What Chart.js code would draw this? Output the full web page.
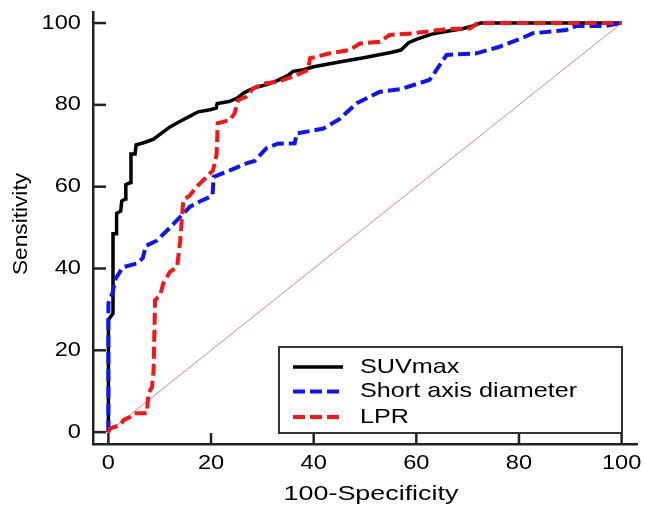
<!DOCTYPE html>
<html>
<head>
<meta charset="utf-8">
<script src="https://cdn.jsdelivr.net/npm/chart.js@4.4.0/dist/chart.umd.min.js"></script>
<style>
  html, body { margin: 0; padding: 0; background: #fff; }
  #roc { display: block; }
</style>
</head>
<body>
<canvas id="roc" width="646" height="505"></canvas>
<script>
// values (x = 100-Specificity, y = Sensitivity)
const tickValues = [0, 20, 40, 60, 80, 100];
const seriesNames = ['SUVmax', 'Short axis diameter', 'LPR'];
const xTitle = '100-Specificity';
const yTitle = 'Sensitivity';

const suvX = [0, 0, 0.9, 0.9, 1.6, 1.6, 2.4, 2.6, 3.3, 3.4, 4.3, 4.4, 5.2, 5.4, 7, 8.8, 10.5, 12, 14, 16, 17.5, 19.8, 21, 21.2, 23.5, 25, 26.5, 28.5, 31, 33, 35, 36, 38, 40, 45, 50, 55, 57, 58.5, 60, 63, 66, 69, 71, 72.5, 100];
const suvY = [0, 27.5, 29, 48.5, 48.5, 53.5, 54, 56.5, 57, 60.5, 61, 68, 68, 70.2, 70.8, 71.6, 73.2, 74.6, 76, 77.3, 78.3, 78.8, 79.2, 80.3, 80.8, 81.6, 83, 84.2, 85, 86, 87.2, 88.2, 88.6, 89.3, 90.5, 91.6, 92.8, 93.4, 95.2, 96, 97.3, 98, 98.6, 99.3, 100, 100];

const shortX = [0, 0, 0.8, 1.4, 2.8, 5.5, 6.7, 7.3, 9.4, 12, 14, 15.9, 18, 19.8, 20.3, 20.5, 23.7, 26.9, 28.5, 30.8, 33, 36.3, 36.7, 41.9, 45, 48.4, 52.9, 56.8, 62.6, 65.9, 71.7, 76.2, 80, 82.7, 89.2, 91.2, 97, 100];
const shortY = [0, 31.5, 34, 37.5, 40.3, 41.2, 42.5, 45.5, 46.8, 50, 52.6, 55.1, 56.5, 57.5, 58, 62.4, 64, 65.7, 66.3, 69.4, 70.5, 70.6, 73, 74.2, 76.5, 80.4, 83.2, 83.8, 86.1, 92.2, 92.6, 94.2, 96, 97.5, 98.3, 99.3, 99.3, 100];

const lprX = [0, 0.3, 2.3, 3, 4.2, 5, 7.5, 7.8, 8.5, 8.8, 9.1, 10.1, 10.7, 12, 13.4, 14, 14.6, 15.9, 17.2, 18.5, 20.4, 21.1, 21.3, 23.7, 24.6, 25.3, 26.9, 28.2, 30.2, 32.8, 36, 38.9, 39.3, 43.2, 47, 49, 52.9, 54.8, 59.4, 65.9, 70.5, 72, 100];
const lprY = [0, 0.9, 1.7, 3, 3.7, 4.6, 4.6, 9.5, 11, 15, 32.3, 33.5, 36.4, 39.2, 40.4, 46.9, 56.7, 57.9, 60, 61.6, 64, 68.1, 75.5, 76.3, 78, 81.2, 82, 84, 85.2, 85.6, 86.9, 88.5, 91.4, 92.6, 93.4, 95, 95.4, 97.1, 97.5, 98.5, 98.7, 100, 100];

const refX = [0, 100];
const refY = [0, 100];

function toPoints(xs, ys) {
    return xs.map((x, i) => ({ x: x, y: ys[i] }));
}

const FONT = '"Liberation Sans", Arial, sans-serif';

// the source picture has horizontally widened lettering, so text is drawn with a small x stretch
function stretchedText(ctx, text, x, y, size, sx, align, angle) {
    ctx.save();
    ctx.translate(x, y);
    if (angle) ctx.rotate(angle);
    ctx.scale(sx, 1);
    ctx.font = size + 'px ' + FONT;
    ctx.fillStyle = '#000';
    ctx.textAlign = align;
    ctx.textBaseline = 'middle';
    ctx.fillText(text, 0, 0);
    ctx.restore();
}

const decorations = {
    id: 'decorations',
    afterDraw(chart) {
        const ctx = chart.ctx;
        const xs = chart.scales.x;
        const ys = chart.scales.y;
        const area = chart.chartArea;

        ctx.save();
        ctx.strokeStyle = '#222';
        ctx.lineWidth = 2.5;
        // inward tick marks
        tickValues.forEach(v => {
            const px = xs.getPixelForValue(v);
            ctx.beginPath();
            ctx.moveTo(px, area.bottom);
            ctx.lineTo(px, area.bottom - 11);
            ctx.stroke();
            const py = ys.getPixelForValue(v);
            ctx.beginPath();
            ctx.moveTo(area.left, py);
            ctx.lineTo(area.left + 13, py);
            ctx.stroke();
        });
        ctx.restore();

        tickValues.forEach(v => {
            stretchedText(ctx, String(v), xs.getPixelForValue(v), 463, 20, 1.18, 'center');
            stretchedText(ctx, String(v), 81, ys.getPixelForValue(v), 20, 1.18, 'right');
        });

        stretchedText(ctx, xTitle, 371, 494, 21, 1.28, 'center');
        stretchedText(ctx, yTitle, 21, 224, 21, 1.08, 'center', -Math.PI / 2);

        // legend box in the lower right
        const box = { left: 279, top: 347, right: 622, bottom: 433 };
        ctx.save();
        ctx.fillStyle = '#fff';
        ctx.fillRect(box.left, box.top, box.right - box.left, box.bottom - box.top);
        ctx.strokeStyle = '#333';
        ctx.lineWidth = 2;
        ctx.strokeRect(box.left, box.top, box.right - box.left, box.bottom - box.top);
        ctx.restore();

        const rows = [367, 391.5, 417];
        [0, 1, 2].forEach(i => {
            const ds = chart.data.datasets[i];
            ctx.save();
            ctx.strokeStyle = ds.borderColor;
            ctx.lineWidth = ds.borderWidth;
            ctx.setLineDash(ds.borderDash || []);
            ctx.beginPath();
            ctx.moveTo(293, rows[i]);
            ctx.lineTo(343, rows[i]);
            ctx.stroke();
            ctx.restore();
            stretchedText(ctx, ds.label, 360, rows[i], 21, 1.2, 'left');
        });
    }
};

const ctx = document.getElementById('roc').getContext('2d');
const rocChart = new Chart(ctx, {
    type: 'line',
    data: {
        datasets: [
            {
                label: seriesNames[0],
                data: toPoints(suvX, suvY),
                borderColor: '#000',
                borderWidth: 3.5,
                order: 3
            },
            {
                label: seriesNames[1],
                data: toPoints(shortX, shortY),
                borderColor: '#0a14ff',
                borderWidth: 4,
                borderDash: [12, 5],
                order: 2
            },
            {
                label: seriesNames[2],
                data: toPoints(lprX, lprY),
                borderColor: '#ff1212',
                borderWidth: 4,
                borderDash: [12, 5],
                order: 1
            },
            {
                label: 'reference',
                data: toPoints(refX, refY),
                borderColor: 'rgba(185, 110, 110, 0.8)',
                borderWidth: 1,
                order: 4
            }
        ]
    },
    options: {
        responsive: false,
        animation: false,
        layout: { padding: { top: 12, right: 9, left: 0, bottom: 0 } },
        elements: {
            point: { radius: 0 },
            line: { tension: 0, fill: false }
        },
        plugins: {
            legend: { display: false },
            tooltip: { enabled: false }
        },
        scales: {
            x: {
                type: 'linear',
                min: -3,
                max: 103,
                grid: { display: false, drawTicks: false },
                border: { color: '#222', width: 2.5 },
                ticks: { display: false },
                afterFit: s => { s.height = 61; }
            },
            y: {
                type: 'linear',
                min: -2.9,
                max: 102.7,
                grid: { display: false, drawTicks: false },
                border: { color: '#222', width: 2.5 },
                ticks: { display: false },
                afterFit: s => { s.width = 93; }
            }
        }
    },
    plugins: [decorations]
});
</script>
</body>
</html>
